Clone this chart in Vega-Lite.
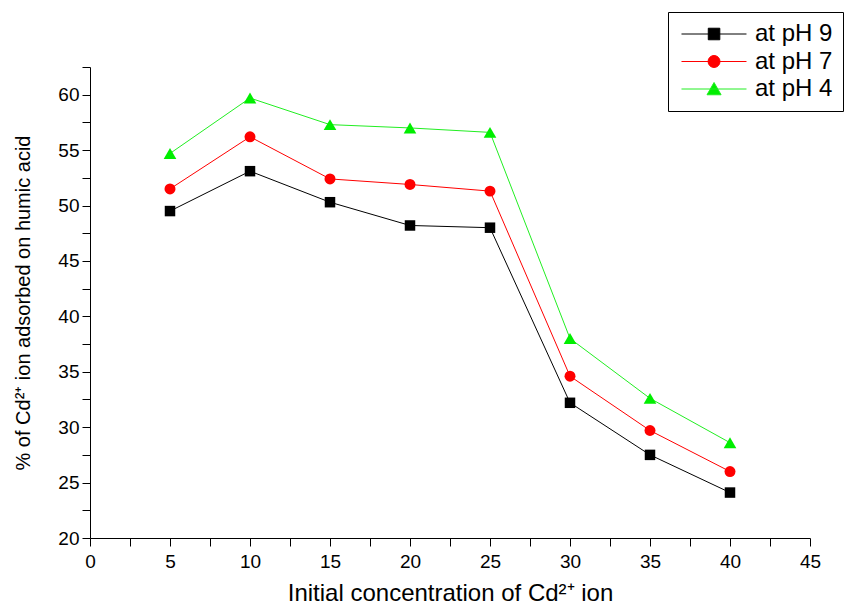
{
  "$schema": "https://vega.github.io/schema/vega-lite/v6.json",
  "width": 720,
  "height": 471,
  "autosize": "none",
  "padding": {"left": 90, "top": 67, "right": 34, "bottom": 74},
  "background": "white",
  "config": {
    "font": "Liberation Sans",
    "view": {"stroke": null},
    "axis": {
      "grid": false,
      "domainColor": "black",
      "tickColor": "black",
      "labelColor": "black",
      "titleColor": "black",
      "labelFont": "Liberation Sans",
      "titleFont": "Liberation Sans",
      "labelFontSize": 19,
      "titleFontSize": 20,
      "titleFontWeight": "normal"
    }
  },
  "data": {
    "values": [
      {"conc": 5, "pct": 49.5, "series": "at pH 9"},
      {"conc": 10, "pct": 53.1, "series": "at pH 9"},
      {"conc": 15, "pct": 50.3, "series": "at pH 9"},
      {"conc": 20, "pct": 48.2, "series": "at pH 9"},
      {"conc": 25, "pct": 48.0, "series": "at pH 9"},
      {"conc": 30, "pct": 32.2, "series": "at pH 9"},
      {"conc": 35, "pct": 27.5, "series": "at pH 9"},
      {"conc": 40, "pct": 24.1, "series": "at pH 9"},
      {"conc": 5, "pct": 51.5, "series": "at pH 7"},
      {"conc": 10, "pct": 56.2, "series": "at pH 7"},
      {"conc": 15, "pct": 52.4, "series": "at pH 7"},
      {"conc": 20, "pct": 51.9, "series": "at pH 7"},
      {"conc": 25, "pct": 51.3, "series": "at pH 7"},
      {"conc": 30, "pct": 34.6, "series": "at pH 7"},
      {"conc": 35, "pct": 29.7, "series": "at pH 7"},
      {"conc": 40, "pct": 26.0, "series": "at pH 7"},
      {"conc": 5, "pct": 54.7, "series": "at pH 4"},
      {"conc": 10, "pct": 59.7, "series": "at pH 4"},
      {"conc": 15, "pct": 57.3, "series": "at pH 4"},
      {"conc": 20, "pct": 57.0, "series": "at pH 4"},
      {"conc": 25, "pct": 56.6, "series": "at pH 4"},
      {"conc": 30, "pct": 38.0, "series": "at pH 4"},
      {"conc": 35, "pct": 32.6, "series": "at pH 4"},
      {"conc": 40, "pct": 28.6, "series": "at pH 4"}
    ]
  },
  "encoding": {
    "x": {
      "field": "conc",
      "type": "quantitative",
      "scale": {"domain": [0, 45], "nice": false, "zero": false},
      "axis": {
        "title": "Initial concentration of Cd²⁺ ion",
        "titleFontSize": 24,
        "values": [0, 2.5, 5, 7.5, 10, 12.5, 15, 17.5, 20, 22.5, 25, 27.5, 30, 32.5, 35, 37.5, 40, 42.5, 45],
        "labelExpr": "datum.value % 5 === 0 ? datum.label : ''",
        "tickSize": 8,
        "encode": {"ticks": {"update": {"y2": {"signal": "datum.value % 5 === 0 ? 8 : 4"}}}},
        "labelPadding": 6,
        "titlePadding": 10,
        "labelFlush": false
      }
    },
    "y": {
      "field": "pct",
      "type": "quantitative",
      "scale": {"domain": [20, 62.5], "nice": false, "zero": false},
      "axis": {
        "title": "% of Cd²⁺ ion adsorbed on humic acid",
        "values": [20, 22.5, 25, 27.5, 30, 32.5, 35, 37.5, 40, 42.5, 45, 47.5, 50, 52.5, 55, 57.5, 60, 62.5],
        "labelExpr": "datum.value % 5 === 0 ? datum.label : ''",
        "tickSize": 8,
        "encode": {"ticks": {"update": {"x2": {"signal": "datum.value % 5 === 0 ? -8 : -4"}}}},
        "labelPadding": 3,
        "titlePadding": 24,
        "labelFlush": false
      }
    }
  },
  "layer": [
    {
      "mark": {"type": "line", "strokeWidth": 1},
      "encoding": {
        "color": {
          "field": "series",
          "type": "nominal",
          "sort": ["at pH 9", "at pH 7", "at pH 4"],
          "scale": {"domain": ["at pH 9", "at pH 7", "at pH 4"], "range": ["#000000", "#ff0000", "#22ee22"]},
          "legend": {
            "title": null,
            "orient": "none",
            "legendX": 578,
            "legendY": -55,
            "strokeColor": "black",
            "fillColor": "white",
            "padding": 10,
            "labelFont": "Liberation Sans",
            "labelFontSize": 24,
            "labelColor": "black",
            "labelOffset": 53,
            "rowPadding": 3.5,
            "symbolSize": 441,
            "symbolStrokeWidth": 1,
            "symbolOpacity": 1,
            "encode": {
              "symbols": {
                "update": {
                  "shape": {"signal": "datum.value === 'at pH 9' ? 'M-0.81,0H5.38M1.74,-0.55H2.84V0.55H1.74Z' : datum.value === 'at pH 7' ? 'M-0.81,0H5.38M2.86,0A0.57,0.57 0 1,1 1.72,0A0.57,0.57 0 1,1 2.86,0Z' : 'M-0.81,0H5.38M2.29,-0.62L2.96,0.55L1.62,0.55Z'"},
                  "fill": {"signal": "datum.value === 'at pH 4' ? '#00ee00' : scale('color', datum.value)"},
                  "stroke": {"signal": "scale('color', datum.value)"}
                }
              }
            }
          }
        }
      }
    },
    {
      "transform": [{"filter": "datum.series === 'at pH 9'"}],
      "mark": {"type": "point", "shape": "square", "filled": true, "opacity": 1, "size": 110, "color": "#000000"}
    },
    {
      "transform": [{"filter": "datum.series === 'at pH 7'"}],
      "mark": {"type": "point", "shape": "circle", "filled": true, "opacity": 1, "size": 120, "color": "#ff0000"}
    },
    {
      "transform": [{"filter": "datum.series === 'at pH 4'"}],
      "mark": {"type": "point", "shape": "triangle-up", "filled": true, "opacity": 1, "size": 160, "color": "#00ee00"}
    }
  ]
}
